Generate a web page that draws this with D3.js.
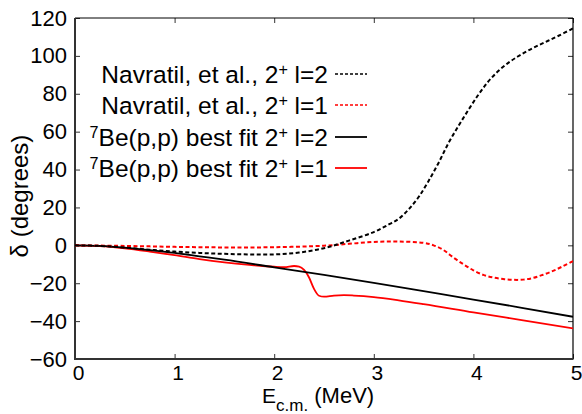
<!DOCTYPE html>
<html><head><meta charset="utf-8">
<script src="https://cdn.jsdelivr.net/npm/d3@7"></script>
<style>body{margin:0;background:#fff}svg{display:block}text{font-family:"Liberation Sans",Arial,Helvetica,sans-serif;fill:#000}</style>
</head><body><svg id="c" width="582" height="414"></svg>
<script>
const xTicks = [0,1,2,3,4,5];
const yTicks = [-60,-40,-20,0,20,40,60,80,100,120];

const navL2E = [0,0.25,0.5,0.75,1.0,1.25,1.5,1.75,2.0,2.25,2.5,2.75,3.0,3.15,3.25,3.35,3.45,3.55,3.65,3.75,3.85,3.95,4.05,4.15,4.25,4.35,4.45,4.55,4.65,4.75,4.85,5.0];
const navL2D = [0,-0.3,-1.2,-2.3,-3.3,-4.0,-4.5,-4.8,-4.8,-3.8,-1.5,2.5,7,11,14,19,25.5,34,43.5,54,63,71.5,79.5,86.5,92,96.3,99.8,102.8,105.5,108,110.5,114.5];

const navL1E = [0,0.5,1.0,1.5,2.0,2.5,2.75,3.0,3.25,3.5,3.6,3.7,3.8,3.9,4.0,4.1,4.2,4.3,4.4,4.5,4.6,4.7,4.8,4.9,5.0];
const navL1D = [0,-0.3,-0.8,-1.1,-1.0,-0.2,0.8,1.8,2.0,1.3,0,-2.5,-6.5,-10,-13.2,-15.6,-17,-17.8,-18.2,-18.1,-17.2,-15.5,-13.5,-11,-8.3];

const fitL2E = [0,0.25,0.5,0.75,1.0,1.25,1.5,2.0,2.5,3.0,3.5,4.0,4.5,5.0];
const fitL2D = [0,-0.3,-1.2,-2.5,-4.0,-5.8,-7.6,-11.6,-15.6,-19.8,-24.2,-28.6,-33.1,-37.7];

const fitL1E = [0,0.25,0.5,0.75,1.0,1.25,1.5,1.75,2.0,2.1,2.2,2.25,2.3,2.35,2.4,2.45,2.5,2.6,2.7,2.8,3.0,3.25,3.5,4.0,4.5,5.0];
const fitL1D = [0,-0.4,-1.6,-3.3,-5.2,-7.3,-9.0,-10.3,-11.3,-11.5,-10.9,-11.2,-13,-17,-23,-26.6,-27.1,-26.5,-26.3,-26.5,-27.3,-29,-31,-35.4,-39.6,-43.8];

const seriesNames = ["Navratil, et al., 2|+| l=2","Navratil, et al., 2|+| l=1","|7|Be(p,p) best fit 2|+| l=2","|7|Be(p,p) best fit 2|+| l=1"];
const seriesColors = ["#000","#f00","#000","#f00"];
const seriesDashed = [true,true,false,false];

const L=75,R=573,T=18,B=359;
const svg=d3.select("#c");
const x=d3.scaleLinear().domain([0,5]).range([L,R]);
const y=d3.scaleLinear().domain([-60,120]).range([B,T]);

svg.append("clipPath").attr("id","cp").append("rect").attr("x",L).attr("y",T).attr("width",R-L).attr("height",B-T);

// axes
const tl=5;
const gx=svg.append("g").attr("transform",`translate(0,${B})`).call(d3.axisBottom(x).tickValues(xTicks).tickSize(-tl).tickPadding(6).tickFormat(d3.format("d")));
const gxt=svg.append("g").attr("transform",`translate(0,${T})`).call(d3.axisTop(x).tickValues(xTicks).tickSize(-tl).tickFormat(""));
const gy=svg.append("g").attr("transform",`translate(${L},0)`).call(d3.axisLeft(y).tickValues(yTicks).tickSize(-tl).tickPadding(8));
const gyr=svg.append("g").attr("transform",`translate(${R},0)`).call(d3.axisRight(y).tickValues(yTicks).tickSize(-tl).tickFormat(""));
[gx,gxt,gy,gyr].forEach(g=>{g.select(".domain").remove();g.selectAll(".tick line").attr("stroke","#333").attr("stroke-width",1);});
gx.selectAll("text").attr("font-size",21).attr("font-family","Liberation Sans, Arial, sans-serif").attr("fill","#000").attr("dy","0.71em").attr("dx",3);
gy.selectAll("text").attr("font-size",22).attr("font-family","Liberation Sans, Arial, sans-serif").attr("fill","#000");

// border
svg.append("line").attr("x1",L).attr("x2",R).attr("y1",T).attr("y2",T).attr("stroke","#000").attr("stroke-width",1);
svg.append("line").attr("x1",R).attr("x2",R).attr("y1",T).attr("y2",B).attr("stroke","#000").attr("stroke-width",1.2);
svg.append("line").attr("x1",L).attr("x2",L).attr("y1",T).attr("y2",B+1).attr("stroke","#333").attr("stroke-width",2);
svg.append("line").attr("x1",L-1).attr("x2",R+0.5).attr("y1",B).attr("y2",B).attr("stroke","#333").attr("stroke-width",2);

const data=[[navL2E,navL2D],[navL1E,navL1D],[fitL2E,fitL2D],[fitL1E,fitL1D]];
const curves=[d3.curveCatmullRom.alpha(0.5),d3.curveCatmullRom.alpha(0.5),d3.curveMonotoneX,d3.curveMonotoneX];
const plotG=svg.append("g").attr("clip-path","url(#cp)");
[3,2,1,0].forEach(i=>{
  const line=d3.line().x(d=>x(d[0])).y(d=>y(d[1])).curve(curves[i]);
  const pts=data[i][0].map((e,k)=>[e,data[i][1][k]]);
  plotG.append("path").attr("d",line(pts)).attr("fill","none").attr("stroke",seriesColors[i])
    .attr("stroke-width",seriesDashed[i]?2:1.8).attr("stroke-dasharray",seriesDashed[i]?"4,2.5":null);
});

// legend
const legY=[74,105,137,168];
const fs=24.5;
seriesNames.forEach((name,i)=>{
  const t=svg.append("text").attr("x",328).attr("y",legY[i]).attr("dy","0.36em").attr("text-anchor","end").attr("font-size",fs);
  name.split("|").forEach((p,k)=>{
    if(p==="") return;
    if(k%2===1) t.append("tspan").attr("font-size",fs*0.66).attr("baseline-shift","48%").text(p);
    else t.append("tspan").text(p);
  });
  svg.append("line").attr("x1",335).attr("x2",367).attr("y1",legY[i]).attr("y2",legY[i])
    .attr("stroke",seriesColors[i]).attr("stroke-width",seriesDashed[i]?1.6:1.8).attr("stroke-dasharray",seriesDashed[i]?"3,2":null);
});

// axis labels
const xl=svg.append("text").attr("x",262).attr("y",403).attr("text-anchor","start").attr("font-size",22);
xl.append("tspan").attr("font-size",21).text("E");
xl.append("tspan").attr("font-size",17).attr("dy",8).text("c.m.");
xl.append("tspan").attr("dy",-8).text(" (MeV)");
svg.append("text").attr("transform",`translate(28,196) rotate(-90)`).attr("text-anchor","middle").attr("font-size",24).text("δ (degrees)");
</script></body></html>
